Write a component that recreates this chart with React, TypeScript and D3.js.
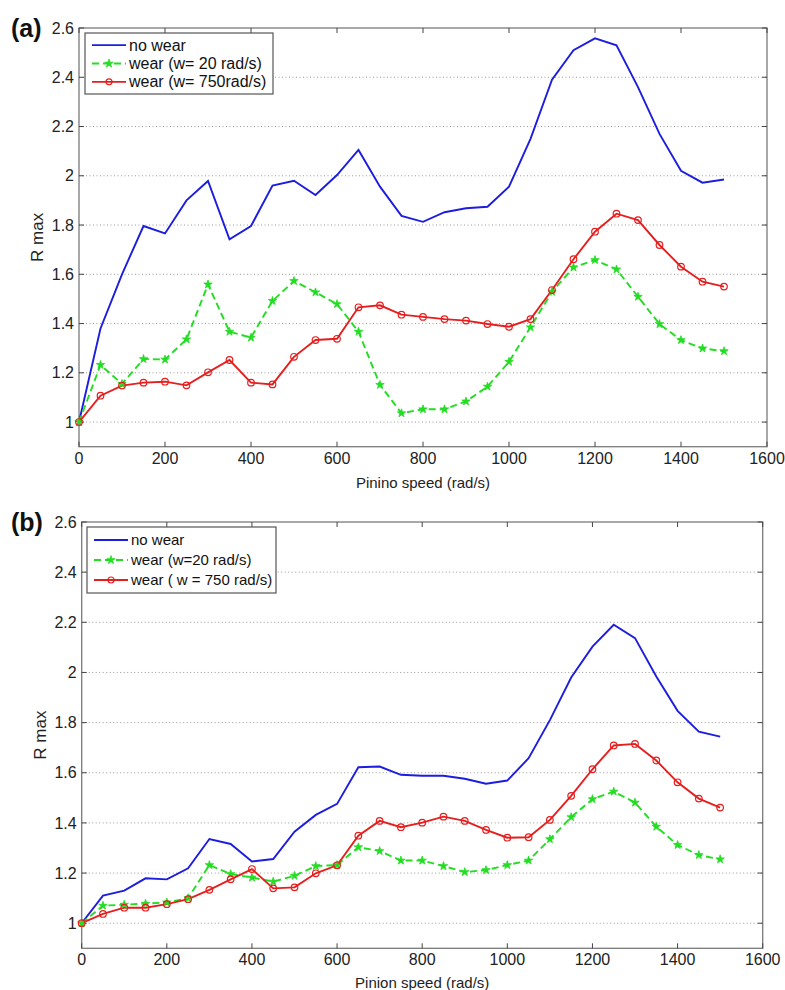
import React from "react";
import * as d3 from "d3";

const speeds = d3.range(0, 1501, 50);

const noWearA = [1.0, 1.38, 1.6, 1.796, 1.766, 1.9, 1.979, 1.742, 1.796, 1.96, 1.98, 1.922, 2.003, 2.105, 1.956, 1.837, 1.813, 1.852, 1.868, 1.874, 1.956, 2.15, 2.39, 2.51, 2.558, 2.53, 2.36, 2.17, 2.02, 1.972, 1.985];
const wear20A = [1.0, 1.232, 1.155, 1.256, 1.254, 1.336, 1.559, 1.367, 1.343, 1.492, 1.573, 1.527, 1.479, 1.367, 1.151, 1.036, 1.052, 1.052, 1.084, 1.144, 1.245, 1.385, 1.529, 1.628, 1.658, 1.62, 1.509, 1.398, 1.333, 1.299, 1.288];
const wear750A = [1.0, 1.107, 1.148, 1.16, 1.164, 1.149, 1.202, 1.252, 1.16, 1.153, 1.265, 1.333, 1.338, 1.466, 1.474, 1.436, 1.427, 1.418, 1.412, 1.398, 1.387, 1.418, 1.536, 1.661, 1.773, 1.846, 1.82, 1.719, 1.631, 1.57, 1.55];

const noWearB = [1.0, 1.11, 1.13, 1.179, 1.175, 1.219, 1.336, 1.316, 1.246, 1.256, 1.365, 1.432, 1.476, 1.622, 1.625, 1.592, 1.588, 1.588, 1.576, 1.556, 1.569, 1.658, 1.81, 1.98, 2.103, 2.19, 2.137, 1.984, 1.847, 1.764, 1.744];
const wear20B = [1.0, 1.07, 1.074, 1.078, 1.083, 1.1, 1.232, 1.196, 1.182, 1.166, 1.189, 1.228, 1.232, 1.303, 1.288, 1.25, 1.25, 1.228, 1.204, 1.212, 1.232, 1.25, 1.335, 1.423, 1.495, 1.525, 1.481, 1.385, 1.312, 1.272, 1.255];
const wear750B = [1.0, 1.037, 1.062, 1.062, 1.076, 1.096, 1.133, 1.175, 1.216, 1.139, 1.143, 1.199, 1.231, 1.349, 1.408, 1.383, 1.401, 1.425, 1.408, 1.372, 1.341, 1.343, 1.412, 1.508, 1.614, 1.709, 1.715, 1.649, 1.562, 1.497, 1.461];

const xTicks = [0, 200, 400, 600, 800, 1000, 1200, 1400, 1600];
const yTicks = [1, 1.2, 1.4, 1.6, 1.8, 2, 2.2, 2.4, 2.6];

const legendA = ["no wear", "wear (w= 20 rad/s)", "wear (w= 750rad/s)"];
const legendB = ["no wear", "wear (w=20 rad/s)", "wear ( w = 750 rad/s)"];

const BLUE = "#1d1de0";
const GREEN = "#22dd22";
const RED = "#e61e1e";
const FONT = "'Liberation Sans', Arial, sans-serif";

type PanelProps = {
  tag: string;
  x0: number; x1: number; yTop: number; yBot: number;
  noWear: number[]; w20: number[]; w750: number[];
  legend: string[];
  legendBox: { x: number; y: number; w: number; h: number };
  legendFont: number;
  xLabel: string;
  xLabelY: number;
};

function Star({ x, y }: { x: number; y: number }) {
  const p = d3.symbol().type(d3.symbolStar).size(22)();
  return (
    <g transform={`translate(${x},${y})`}>
      <path d={p || ""} fill={GREEN} stroke={GREEN} strokeWidth={0.8} />
    </g>
  );
}

function Panel(props: PanelProps) {
  const { x0, x1, yTop, yBot } = props;
  const xs = d3.scaleLinear().domain([0, 1600]).range([x0, x1]);
  const ys = d3.scaleLinear().domain([0.9, 2.6]).range([yBot, yTop]);
  const line = d3
    .line<number>()
    .x((_, i) => xs(speeds[i]))
    .y((d) => ys(d));
  const tickLen = 5;
  const axisCol = "#7a7a7a";
  const lb = props.legendBox;
  const rowH = (lb.h - 6) / 3;
  return (
    <g>
      {yTicks.slice(0, -1).map((t) => (
        <line key={"g" + t} x1={x0} x2={x1} y1={ys(t)} y2={ys(t)} stroke="#9a9a9a" strokeWidth={1} strokeDasharray="1,2.5" />
      ))}
      <rect x={x0} y={yTop} width={x1 - x0} height={yBot - yTop} fill="none" stroke={axisCol} strokeWidth={1.3} />
      {xTicks.map((t) => (
        <g key={"xt" + t}>
          <line x1={xs(t)} x2={xs(t)} y1={yBot} y2={yBot - tickLen} stroke="#444" />
          <line x1={xs(t)} x2={xs(t)} y1={yTop} y2={yTop + tickLen} stroke="#444" />
          <text x={xs(t)} y={yBot + 17} textAnchor="middle" fontFamily={FONT} fontSize={16} fill="#222">{t}</text>
        </g>
      ))}
      {yTicks.map((t) => (
        <g key={"yt" + t}>
          <line x1={x0} x2={x0 + tickLen} y1={ys(t)} y2={ys(t)} stroke="#444" />
          <line x1={x1} x2={x1 - tickLen} y1={ys(t)} y2={ys(t)} stroke="#444" />
          <text x={x0 - 5} y={ys(t)} dy="0.35em" textAnchor="end" fontFamily={FONT} fontSize={16} fill="#222">{d3.format("")(t)}</text>
        </g>
      ))}
      <text transform={`translate(${x0 - 42},${(yTop + yBot) / 2}) rotate(-90)`} dy="0.35em" textAnchor="middle" fontFamily={FONT} fontSize={17} fill="#222">R max</text>
      <text x={(x0 + x1) / 2} y={props.xLabelY} textAnchor="middle" fontFamily={FONT} fontSize={15} fill="#222">{props.xLabel}</text>
      <text x={11} y={yTop + 9} fontFamily={FONT} fontSize={25} fontWeight="bold" fill="#111">{props.tag}</text>

      <path d={line(props.noWear) || ""} fill="none" stroke={BLUE} strokeWidth={1.9} />
      <path d={line(props.w20) || ""} fill="none" stroke={GREEN} strokeWidth={1.9} strokeDasharray="7,4" />
      <path d={line(props.w750) || ""} fill="none" stroke={RED} strokeWidth={1.9} />
      {props.w20.map((v, i) => (
        <Star key={"s" + i} x={xs(speeds[i])} y={ys(v)} />
      ))}
      {props.w750.map((v, i) => (
        <circle key={"c" + i} cx={xs(speeds[i])} cy={ys(v)} r={3.3} fill="none" stroke={RED} strokeWidth={1.2} />
      ))}

      <rect x={lb.x} y={lb.y} width={lb.w} height={lb.h} fill="#fff" stroke="#555" strokeWidth={1.2} />
      {props.legend.map((txt, i) => {
        const cy = lb.y + 3 + rowH * (i + 0.5);
        const lx0 = lb.x + 7;
        const lx1 = lb.x + 41;
        const col = i === 0 ? BLUE : i === 1 ? GREEN : RED;
        return (
          <g key={"l" + i}>
            <line x1={lx0} x2={lx1} y1={cy} y2={cy} stroke={col} strokeWidth={1.8} strokeDasharray={i === 1 ? "7,4" : undefined} />
            {i === 1 && <Star x={(lx0 + lx1) / 2} y={cy} />}
            {i === 2 && <circle cx={(lx0 + lx1) / 2} cy={cy} r={3} fill="none" stroke={RED} strokeWidth={1.2} />}
            <text x={lx1 + 3} y={cy} dy="0.35em" fontFamily={FONT} fontSize={props.legendFont} fill="#111">{txt}</text>
          </g>
        );
      })}
    </g>
  );
}

export default function App() {
  return (
    <svg width={785} height={990} style={{ position: "absolute", left: 0, top: 0, background: "#fff" }}>
      <rect width={785} height={990} fill="#fff" />
      <Panel
        tag="(a)"
        x0={79} x1={767} yTop={28} yBot={446.7}
        noWear={noWearA} w20={wear20A} w750={wear750A}
        legend={legendA}
        legendBox={{ x: 85, y: 33, w: 188, h: 61 }}
        legendFont={16}
        xLabel="Pinino speed  (rad/s)"
        xLabelY={488}
      />
      <Panel
        tag="(b)"
        x0={81.7} x1={762.7} yTop={522} yBot={948.3}
        noWear={noWearB} w20={wear20B} w750={wear750B}
        legend={legendB}
        legendBox={{ x: 87, y: 527, w: 189, h: 66 }}
        legendFont={15}
        xLabel="Pinion speed (rad/s)"
        xLabelY={988}
      />
    </svg>
  );
}
